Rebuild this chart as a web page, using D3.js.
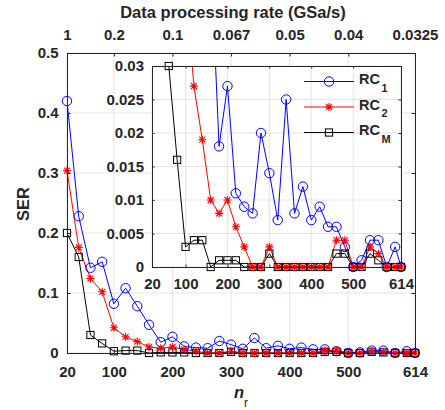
<!DOCTYPE html>
<html>
<head>
<meta charset="utf-8">
<script src="https://cdn.jsdelivr.net/npm/d3@7"></script>
<style>
  body { margin: 0; background: #fff; }
  svg text { font-family: "Liberation Sans", Arial, sans-serif; font-weight: bold; fill: #262626; }
</style>
</head>
<body>
<div id="chart"></div>
<script>
// samples (n_r) and symbol error rates
var nr = [20, 40, 60, 80, 100, 120, 140, 160, 180, 200, 220, 240, 260, 280, 300,
          320, 340, 360, 380, 400, 420, 440, 460, 480, 500, 520, 540, 560, 580, 600, 614];
var rc1 = [0.42, 0.228, 0.142, 0.152, 0.082, 0.108, 0.078, 0.047, 0.018, 0.027, 0.011, 0.009, 0.008, 0.02, 0.014,
           0.007, 0.025, 0.008, 0.012, 0.007, 0.009, 0.006, 0.006, 0.003, 0, 0.001, 0.004, 0.004, 0, 0.003, 0];
var rc2 = [0.304, 0.176, 0.124, 0.102, 0.042, 0.027, 0.019, 0.010, 0.008, 0.010, 0.006, 0.003, 0, 0, 0.003,
           0, 0, 0, 0, 0, 0, 0, 0.004, 0.004, 0, 0, 0.003, 0.002, 0, 0, 0];
var rcm = [0.2, 0.16, 0.03, 0.016, 0.003, 0.004, 0.004, 0, 0.001, 0.001, 0.001, 0, 0, 0, 0.002,
           0, 0, 0, 0, 0, 0, 0, 0.002, 0.002, 0, 0, 0.002, 0.001, 0, 0, 0];

var xTicks = [20, 100, 200, 300, 400, 500, 614];
var topLabels = ["1", "0.2", "0.1", "0.067", "0.05", "0.04", "0.0325"];
var yTicks = [0, 0.1, 0.2, 0.3, 0.4, 0.5];
var insetYTicks = [0, 0.005, 0.01, 0.015, 0.02, 0.025, 0.03];

var series = [
  {name: "1", values: rc1, color: "#0000ff", marker: "circle"},
  {name: "M", values: rcm, color: "#000000", marker: "square"},
  {name: "2", values: rc2, color: "#ff0000", marker: "star"}
];
var legendOrder = ["1", "2", "M"];

var width = 445, height = 410;
var svg = d3.select("#chart").append("svg")
    .attr("width", width)
    .attr("height", height);

function drawMarker(g, type, color) {
  if (type === "circle") {
    g.append("circle").attr("r", 4.7).attr("fill", "none").attr("stroke", color).attr("stroke-width", 1);
  } else if (type === "square") {
    g.append("rect").attr("x", -3.6).attr("y", -3.6).attr("width", 7.2).attr("height", 7.2)
      .attr("fill", "none").attr("stroke", color).attr("stroke-width", 1);
  } else {
    g.append("path").attr("d", "M-4,0L4,0M0,-4L0,4M-3,-3L3,3M-3,3L3,-3")
      .attr("stroke", color).attr("stroke-width", 1.1).attr("fill", "none");
  }
}

function panel(box, yDomain, yT, tickLen, opts) {
  var x = d3.scaleLinear().domain([20, 614]).range([box.x0, box.x1]);
  var y = d3.scaleLinear().domain(yDomain).range([box.y1, box.y0]);
  var g = svg.append("g");

  g.append("rect").attr("x", box.x0).attr("y", box.y0)
    .attr("width", box.x1 - box.x0).attr("height", box.y1 - box.y0).attr("fill", "#fff");

  // grid
  g.selectAll(".gx").data(xTicks).enter().append("line")
    .attr("x1", x).attr("x2", x).attr("y1", box.y0).attr("y2", box.y1)
    .attr("stroke", "#e3e3e3").attr("stroke-width", 1);
  g.selectAll(".gy").data(yT).enter().append("line")
    .attr("y1", y).attr("y2", y).attr("x1", box.x0).attr("x2", box.x1)
    .attr("stroke", "#e3e3e3").attr("stroke-width", 1);

  var id = "clip" + opts.id;
  svg.append("clipPath").attr("id", id).append("rect")
    .attr("x", box.x0).attr("y", box.y0).attr("width", box.x1 - box.x0).attr("height", box.y1 - box.y0);

  var line = d3.line().x(function (d) { return x(d[0]); }).y(function (d) { return y(d[1]); });
  var top = yDomain[1] + 1e-9;

  series.forEach(function (s) {
    var pts = nr.map(function (n, i) { return [n, s.values[i]]; });
    g.append("path").datum(pts).attr("d", line)
      .attr("clip-path", "url(#" + id + ")")
      .attr("fill", "none").attr("stroke", s.color).attr("stroke-width", 1);
  });
  series.forEach(function (s) {
    nr.forEach(function (n, i) {
      var v = s.values[i];
      if (v > top) return;
      var m = g.append("g").attr("transform", "translate(" + x(n) + "," + y(v) + ")");
      drawMarker(m, s.marker, s.color);
    });
  });

  // axes with inward ticks
  var fmt = function (d) { return String(d); };
  var ax = g.append("g").attr("transform", "translate(0," + box.y1 + ")")
    .call(d3.axisBottom(x).tickValues(xTicks).tickSize(-tickLen).tickSizeOuter(0).tickPadding(opts.xPad).tickFormat(fmt));
  var ay = g.append("g").attr("transform", "translate(" + box.x0 + ",0)")
    .call(d3.axisLeft(y).tickValues(yT).tickSize(-tickLen).tickSizeOuter(0).tickPadding(opts.yPad).tickFormat(fmt));
  var at = g.append("g").attr("transform", "translate(0," + box.y0 + ")")
    .call(d3.axisTop(x).tickValues(xTicks).tickSize(-tickLen).tickSizeOuter(0).tickPadding(13)
      .tickFormat(function (d, i) { return opts.topLabels ? opts.topLabels[i] : ""; }));
  var ar = g.append("g").attr("transform", "translate(" + box.x1 + ",0)")
    .call(d3.axisRight(y).tickValues(yT).tickSize(-tickLen).tickSizeOuter(0).tickFormat(""));

  [ax, ay, at, ar].forEach(function (a) {
    a.selectAll("path.domain").attr("stroke", "#262626").attr("stroke-width", 1);
    a.selectAll(".tick line").attr("stroke", "#262626");
    a.selectAll("text").attr("font-size", 15).attr("font-family", null).attr("fill", null);
  });
  return {x: x, y: y};
}

panel({x0: 67, x1: 415, y0: 53, y1: 353}, [0, 0.5], yTicks, 3.5,
      {id: "main", xPad: 13, yPad: 8.5, topLabels: topLabels});
panel({x0: 152, x1: 401, y0: 66, y1: 267}, [0, 0.03], insetYTicks, 2.5,
      {id: "inset", xPad: 11.5, yPad: 8});

// legend
var lg = svg.append("g");
legendOrder.forEach(function (name, i) {
  var s = series.filter(function (d) { return d.name === name; })[0];
  var ly = 81.5 + 25.5 * i;
  lg.append("line").attr("x1", 304).attr("x2", 354).attr("y1", ly).attr("y2", ly)
    .attr("stroke", s.color).attr("stroke-width", 1);
  drawMarker(lg.append("g").attr("transform", "translate(329," + ly + ")"), s.marker, s.color);
  var t = lg.append("text").attr("x", 359).attr("y", ly + 2.5).attr("font-size", 14.5);
  t.append("tspan").text("RC");
  t.append("tspan").attr("x", 381.5).attr("dy", 7.5).attr("font-size", 11).text(s.name);
});

// titles
svg.append("text").attr("x", 233).attr("y", 18).attr("text-anchor", "middle")
  .attr("font-size", 16.5).text("Data processing rate (GSa/s)");
svg.append("text").attr("transform", "translate(28.5,204) rotate(-90)").attr("text-anchor", "middle")
  .attr("font-size", 16.5).text("SER");
var xl = svg.append("text").attr("x", 234).attr("y", 398).attr("font-size", 16.5);
xl.append("tspan").attr("font-style", "italic").text("n");
xl.append("tspan").attr("dy", 9).attr("font-size", 12).attr("font-weight", "normal").text("r");
</script>
</body>
</html>
